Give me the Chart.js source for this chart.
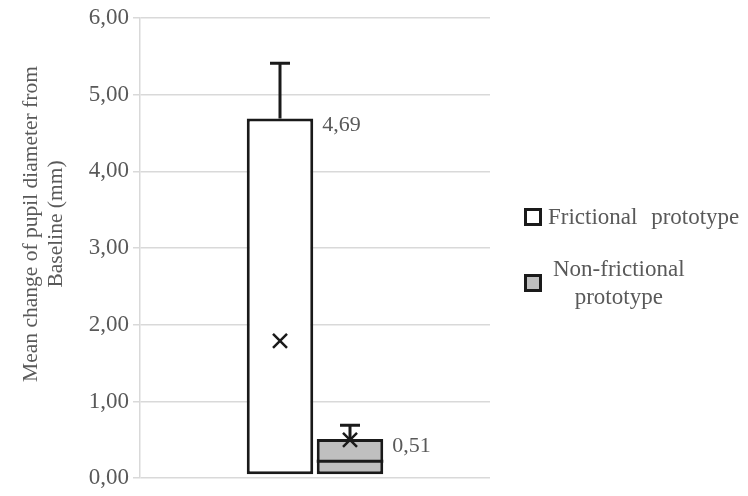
<!DOCTYPE html>
<html lang="en">
<head>
    <meta charset="UTF-8">
    <title>Pupil diameter change</title>
    <script src="https://cdn.jsdelivr.net/npm/chart.js"></script>
    <style>
        body { margin: 0; background: #fff; }
        .wrap { position: relative; width: 748px; height: 496px; }
        .legend { position: absolute; left: 524px; top: 0; font-family: "Liberation Serif", serif; font-size: 23px; color: #595959; }
        .item { position: absolute; display: flex; align-items: center; white-space: nowrap; }
        .box { width: 12px; height: 12px; border: 3px solid #1a1a1a; margin-right: 6px; }
        .two { text-align: center; line-height: 28px; margin-left: 5px; }
    </style>
</head>
<body>
    <div class="wrap">
        <canvas id="myChart" width="748" height="496"></canvas>
        <div class="legend">
            <div class="item" style="top:204px;"><div class="box" style="background:#fff"></div><span style="word-spacing:8px">Frictional prototype</span></div>
            <div class="item" style="top:255px;"><div class="box" style="background:#bfbfbf"></div><div class="two">Non-frictional<br>prototype</div></div>
        </div>
    </div>

    <script>
        // valores
        const categories = ['Frictional prototype', 'Non-frictional prototype'];
        const boxLow = [0.05, 0.05];
        const boxHigh = [4.69, 0.51];
        const medians = [null, 0.22];
        const means = [1.79, 0.50];
        const whiskerHigh = [5.41, 0.69];
        const yTicks = [0, 1, 2, 3, 4, 5, 6];
        const yTitle = ['Mean change of pupil diameter from', 'Baseline (mm)'];
        const fills = ['#ffffff', '#bfbfbf'];

        const fmt = v => v.toFixed(2).replace('.', ',');

        // bigotes, mediana, media, etiquetas y titulo del eje
        const boxExtras = {
            id: 'boxExtras',
            afterDraw(chart) {
                const ctx = chart.ctx;
                const y = chart.scales.y;
                ctx.save();
                categories.forEach((c, i) => {
                    const bar = chart.getDatasetMeta(i).data[0];
                    const x = bar.x;
                    const half = bar.width / 2;
                    ctx.strokeStyle = '#1a1a1a';
                    ctx.lineWidth = 3;
                    // bigote
                    ctx.beginPath();
                    ctx.moveTo(x, y.getPixelForValue(boxHigh[i]));
                    ctx.lineTo(x, y.getPixelForValue(whiskerHigh[i]));
                    ctx.moveTo(x - 10, y.getPixelForValue(whiskerHigh[i]));
                    ctx.lineTo(x + 10, y.getPixelForValue(whiskerHigh[i]));
                    ctx.stroke();
                    // mediana
                    if (medians[i] !== null) {
                        ctx.beginPath();
                        ctx.moveTo(x - half, y.getPixelForValue(medians[i]));
                        ctx.lineTo(x + half, y.getPixelForValue(medians[i]));
                        ctx.stroke();
                    }
                    // media (x)
                    const my = y.getPixelForValue(means[i]);
                    ctx.lineWidth = 2.5;
                    ctx.beginPath();
                    ctx.moveTo(x - 7, my - 7); ctx.lineTo(x + 7, my + 7);
                    ctx.moveTo(x + 7, my - 7); ctx.lineTo(x - 7, my + 7);
                    ctx.stroke();
                    // etiqueta
                    ctx.fillStyle = '#595959';
                    ctx.font = '22px "Liberation Serif"';
                    ctx.textBaseline = 'middle';
                    ctx.textAlign = 'left';
                    ctx.fillText(fmt(boxHigh[i]), x + half + 9, y.getPixelForValue(boxHigh[i]) + 7);
                });
                // titulo del eje y
                ctx.translate(43, 224);
                ctx.rotate(-Math.PI / 2);
                ctx.fillStyle = '#595959';
                ctx.font = '21.5px "Liberation Serif"';
                ctx.textAlign = 'center';
                ctx.textBaseline = 'middle';
                ctx.fillText(yTitle[0], 0, -12);
                ctx.fillText(yTitle[1], 0, 13);
                ctx.restore();
            }
        };

        const chartData = {
            labels: [''],
            datasets: categories.map((c, i) => ({
                label: c,
                data: [[boxLow[i], boxHigh[i]]],
                backgroundColor: fills[i],
                borderColor: '#1a1a1a',
                borderWidth: 3,
                borderSkipped: false,
                categoryPercentage: 0.40,
                barPercentage: 0.95
            }))
        };

        const myChart = new Chart(document.getElementById('myChart'), {
            type: 'bar',
            data: chartData,
            options: {
                responsive: false,
                animation: false,
                layout: { padding: { top: 18, bottom: 14, left: 0, right: 258 } },
                plugins: { legend: { display: false }, tooltip: { enabled: false } },
                scales: {
                    x: { display: false },
                    y: {
                        min: 0,
                        max: 6,
                        afterBuildTicks: s => { s.ticks = yTicks.map(v => ({ value: v })); },
                        afterFit: s => { s.width = 140; },
                        ticks: {
                            callback: v => fmt(v),
                            color: '#595959',
                            font: { family: 'Liberation Serif', size: 23 },
                            padding: 4
                        },
                        grid: { color: '#d9d9d9', lineWidth: 1.5, tickLength: 7 },
                        border: { color: '#d9d9d9', width: 1.5 }
                    }
                }
            },
            plugins: [boxExtras]
        });
    </script>
</body>
</html>
